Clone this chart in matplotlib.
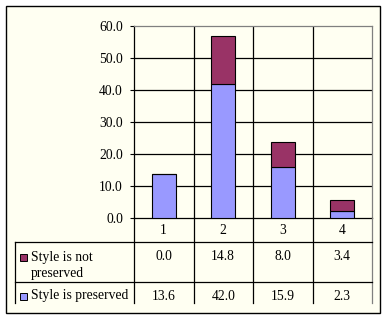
import matplotlib
matplotlib.use("Agg")
import matplotlib.pyplot as plt
from matplotlib.lines import Line2D
from matplotlib.patches import Rectangle

categories = ["1", "2", "3", "4"]
preserved = [13.6, 42.0, 15.9, 2.3]
not_preserved = [0.0, 14.8, 8.0, 3.4]
series_labels = ["Style is not\npreserved", "Style is preserved"]
yticks = [0, 10, 20, 30, 40, 50, 60]

W, H = 387, 319
BG = "#FFFFF2"
C_PRES = "#9999FF"
C_NOT = "#993366"
FONT = "Liberation Serif"
FS = 9.8

plt.rcParams["font.family"] = [FONT, "DejaVu Serif"]

fig = plt.figure(figsize=(W / 100, H / 100), dpi=100)
fig.patch.set_facecolor("white")

def fx(x):
    return x / W

def fy(y):
    return 1 - y / H

# outer chart area border
fig.patches.append(Rectangle((fx(6), fy(313)), fx(380) - fx(6), fy(6) - fy(313),
                             transform=fig.transFigure, facecolor=BG,
                             edgecolor="black", lw=1.0, zorder=-5))

L, R, T, B = 134, 372, 26, 218
ax = fig.add_axes([fx(L), fy(B), fx(R) - fx(L), fy(T) - fy(B)])
ax.set_zorder(1)
ax.set_facecolor(BG)
x = list(range(len(categories)))
bw = 0.41
ax.bar(x, preserved, width=bw, color=C_PRES, edgecolor="black", lw=0.8, zorder=3)
ax.bar(x, not_preserved, width=bw, bottom=preserved, color=C_NOT,
       edgecolor="black", lw=0.8, zorder=3)
ax.set_xlim(-0.5, len(categories) - 0.5)
ax.set_ylim(0, 60)
ax.set_yticks(yticks)
ax.set_yticklabels([f"{v:.1f}" for v in yticks], fontsize=FS)
ax.tick_params(axis="y", length=3, width=0.8, pad=5, color="black")
ax.set_xticks([])
for v in yticks[1:-1]:
    ax.axhline(v, color="black", lw=0.9, zorder=1)
for xe in [0.5, 1.5, 2.5]:
    ax.axvline(xe, color="black", lw=0.9, zorder=1)
for s in ["top", "right"]:
    ax.spines[s].set_color("#808080")
    ax.spines[s].set_linewidth(0.9)
for s in ["left", "bottom"]:
    ax.spines[s].set_color("black")
    ax.spines[s].set_linewidth(0.9)

# data table
col_edges = [L + (R - L) * i / len(categories) for i in range(len(categories) + 1)]
row_y = [B, 242, 282, 303]

def hline(y, x0, x1, color="black"):
    fig.lines.append(Line2D([fx(x0), fx(x1)], [fy(y), fy(y)],
                            transform=fig.transFigure, color=color, lw=0.9, zorder=2))

def vline(xp, y0, y1, color="black"):
    fig.lines.append(Line2D([fx(xp), fx(xp)], [fy(y0), fy(y1)],
                            transform=fig.transFigure, color=color, lw=0.9, zorder=2))

for xe in col_edges[1:-1]:
    vline(xe, B, row_y[-1])
vline(L, B, row_y[-1])
vline(R, B, row_y[-1], color="#808080")
vline(15, row_y[1], row_y[-1])
hline(row_y[1], 15, R)
hline(row_y[2], 15, R)

centers = [(col_edges[i] + col_edges[i + 1]) / 2 for i in range(len(categories))]
for c, lab in zip(centers, categories):
    fig.text(fx(c), fy(231), lab, ha="center", va="center", fontsize=FS)

rows = [(series_labels[0], not_preserved, C_NOT, 257),
        (series_labels[1], preserved, C_PRES, 296)]
for lab, vals, col, yc in rows:
    fig.patches.append(Rectangle((fx(20), fy(yc + 3.5)), fx(7), 7 / H,
                                 transform=fig.transFigure, facecolor=col,
                                 edgecolor="black", lw=0.7, zorder=2))
    lines = lab.split("\n")
    for i, ln in enumerate(lines):
        fig.text(fx(31), fy(yc + 17 * i), ln, ha="left", va="center", fontsize=FS)
    for c, v in zip(centers, vals):
        fig.text(fx(c), fy(yc), f"{v:.1f}", ha="center", va="center", fontsize=FS)

fig.savefig("out.png", dpi=100, facecolor="white")
